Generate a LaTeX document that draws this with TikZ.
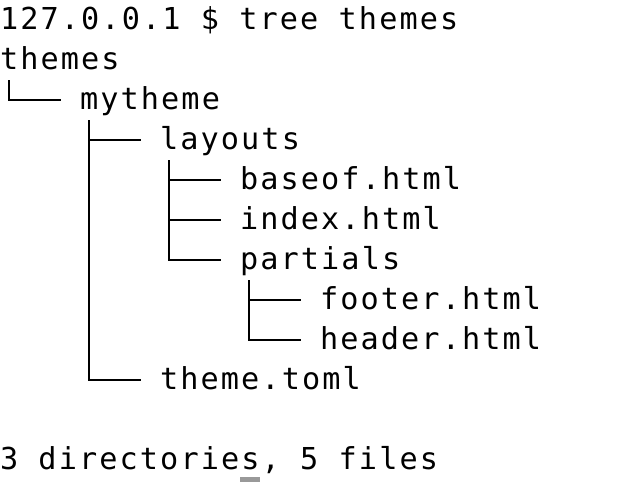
\documentclass[tikz,border=0pt]{standalone}
\usepackage{fontspec}
\newfontfamily\termfont{DejaVu Sans Mono}[LetterSpace=7]
\begin{document}
\begin{tikzpicture}[x=1pt,y=-1pt,
  line/.style={anchor=base west,inner sep=0pt,outer sep=0pt,font=\termfont\fontsize{30.2}{40}\selectfont,text=black},
  branch/.style={draw=black,line width=2.6pt},
  cursorbox/.style={fill=black!40,draw=none}]
\useasboundingbox[fill=white] (0,0) rectangle (626,482);
% text lines (baseline = 29 + 40(n-1), column width 20)
\node[line] (prompt)  at (0,29)   {127.0.0.1 \$ tree themes};
\node[line] (themes)  at (0,69)   {themes};
\node[line] (mytheme) at (80,109) {mytheme};
\node[line] (layouts) at (160,149) {layouts};
\node[line] (baseof)  at (240,189) {baseof.html};
\node[line] (index)   at (240,229) {index.html};
\node[line] (partials) at (240,269) {partials};
\node[line] (footer)  at (320,309) {footer.html};
\node[line] (header)  at (320,349) {header.html};
\node[line] (toml)    at (160,389) {theme.toml};
\node[line] (summary) at (0,469)  {3 directories, 5 files};
% tree branches
\coordinate (t0a) at (9,80);   \coordinate (t0b) at (9,100);
\coordinate (t1a) at (89,120);  \coordinate (t1b) at (89,380);
\coordinate (t2a) at (169,160); \coordinate (t2b) at (169,260);
\coordinate (t3a) at (249,280); \coordinate (t3b) at (249,340);
\draw[branch] (t0a) -- (t0b) -- (61,100);
\draw[branch] (t1a) -- (t1b) -- (141,380);
\draw[branch] (89,140) -- (141,140);
\draw[branch] (t2a) -- (t2b) -- (221,260);
\draw[branch] (169,180) -- (221,180);
\draw[branch] (169,220) -- (221,220);
\draw[branch] (t3a) -- (t3b) -- (301,340);
\draw[branch] (249,300) -- (301,300);
% cursor
\fill[cursorbox] (240,477) rectangle (260,482);
\end{tikzpicture}
\end{document}
